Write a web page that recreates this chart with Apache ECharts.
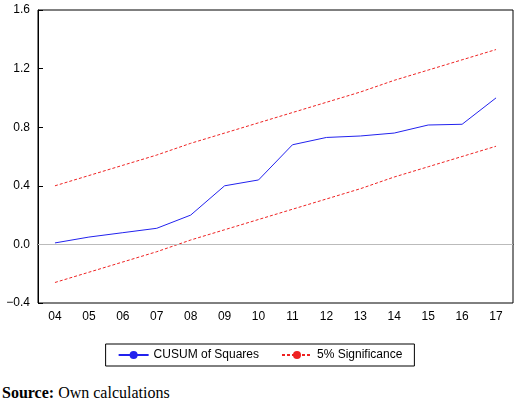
<!DOCTYPE html><html><head><meta charset="utf-8">
<script src="https://cdn.jsdelivr.net/npm/echarts@6/dist/echarts.min.js"></script>
<style>body{margin:0;background:#fff}#c{width:520px;height:380px}
#s{position:absolute;left:2px;top:384px;font-family:"Liberation Serif","DejaVu Serif",serif;font-size:16px;color:#000}</style>
</head><body><div id="c"></div><div id="s"><b>Source:</b> Own calculations</div>
<script>
const categories=['04','05','06','07','08','09','10','11','12','13','14','15','16','17'];
const cusum=[0.01,0.05,0.08,0.11,0.20,0.40,0.44,0.68,0.73,0.74,0.76,0.815,0.82,1.00];
const upper=[0.40,0.47,0.54,0.61,0.69,0.76,0.83,0.90,0.97,1.04,1.12,1.19,1.26,1.33];
const lower=[-0.26,-0.19,-0.12,-0.05,0.03,0.10,0.17,0.24,0.31,0.38,0.46,0.53,0.60,0.67];
const c=echarts.init(document.getElementById('c'));
const font={fontFamily:'Liberation Sans, Arial',fontSize:12,color:'#000'};
c.setOption({animation:false,
grid:{left:38,right:7,top:10,bottom:77,show:true,borderColor:'#000',borderWidth:1},
legend:{bottom:14,left:'center',itemWidth:30,itemHeight:10,itemGap:22,borderColor:'#000',borderWidth:1,borderRadius:0,padding:[5,12],textStyle:font,
 data:['CUSUM of Squares','5% Significance']},
xAxis:{type:'category',data:categories,boundaryGap:true,axisLine:{lineStyle:{color:'#000'}},axisTick:{alignWithLabel:true,inside:true,lineStyle:{color:'#000'}},axisLabel:Object.assign({margin:8},font)},
yAxis:{type:'value',min:-0.4,max:1.6,interval:0.4,axisLine:{show:true,lineStyle:{color:'#000'}},axisTick:{show:true,inside:true,lineStyle:{color:'#000'}},splitLine:{show:false},
 axisLabel:Object.assign({formatter:v=>(v<0?'\u2212':'')+Math.abs(v).toFixed(1)},font)},
series:[
{name:'CUSUM of Squares',type:'line',data:cusum,symbol:'none',lineStyle:{color:'#2222ee',width:1},itemStyle:{color:'#2222ee'},
 markLine:{silent:true,symbol:'none',label:{show:false},lineStyle:{color:'#bbb',type:'solid',width:1},data:[{yAxis:0}]}},
{name:'5% Significance',type:'line',data:upper,symbol:'none',lineStyle:{color:'#ee2222',width:1,type:[3,2]},itemStyle:{color:'#ee2222'}},
{name:'5% Significance',type:'line',data:lower,symbol:'none',lineStyle:{color:'#ee2222',width:1,type:[3,2]},itemStyle:{color:'#ee2222'}}
]});
</script></body></html>
